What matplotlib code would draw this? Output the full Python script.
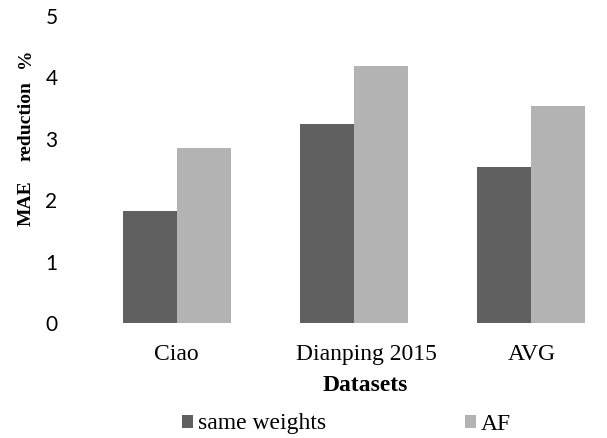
import numpy as np
import matplotlib.pyplot as plt
from matplotlib.transforms import ScaledTranslation

# Data
datasets = ["Ciao", "Dianping 2015", "AVG"]
same_weights = [1.82, 3.24, 2.54]
af = [2.85, 4.19, 3.53]

fig = plt.figure(figsize=(6.07, 4.38), dpi=100)
ax = fig.add_axes([88 / 607, 115 / 438, 532 / 607, 307 / 438])

x = np.arange(len(datasets))
w = 0.305
ax.bar(x - w / 2, same_weights, w, color="#606060", label="same weights")
ax.bar(x + w / 2, af, w, color="#b3b3b3", label="AF")

ax.set_xlim(-0.5, 2.5)
ax.set_ylim(0, 5)
ax.set_yticks(range(6))
ax.set_yticklabels([str(i) for i in range(6)], family="Lato", fontsize=15)
ax.set_xticks(x)
ax.set_xticklabels(datasets, family="Liberation Serif", fontsize=17)
ax.tick_params(length=0)
ax.tick_params(axis="y", pad=22)
ax.tick_params(axis="x", pad=15)
for s in ax.spines.values():
    s.set_visible(False)

# middle category label sits a little to the right in the original
lbl = ax.get_xticklabels()[1]
lbl.set_transform(lbl.get_transform() + ScaledTranslation(0.12, 0, fig.dpi_scale_trans))

ax.set_xlabel("Datasets", family="Liberation Serif", fontweight="bold", fontsize=17, labelpad=10)
ax.xaxis.set_label_coords((365 - 88) / 532, -0.17)

# y label, words spread out
for word, yy in [("MAE", 203), ("reduction", 121), ("%", 58)]:
    fig.text(26 / 607, 1 - yy / 438, word, rotation=90, ha="center", va="center",
             family="Liberation Serif", fontweight="bold", fontsize=14)

fig.legend(loc="center left", bbox_to_anchor=(182 / 607, 1 - 424 / 438), ncol=2, frameon=False,
           prop={"family": "Liberation Serif", "size": 17}, handlelength=0.47,
           handleheight=0.47, handletextpad=0.2, columnspacing=5.9,
           borderpad=0, borderaxespad=0)

fig.savefig("out.png", dpi=100)
